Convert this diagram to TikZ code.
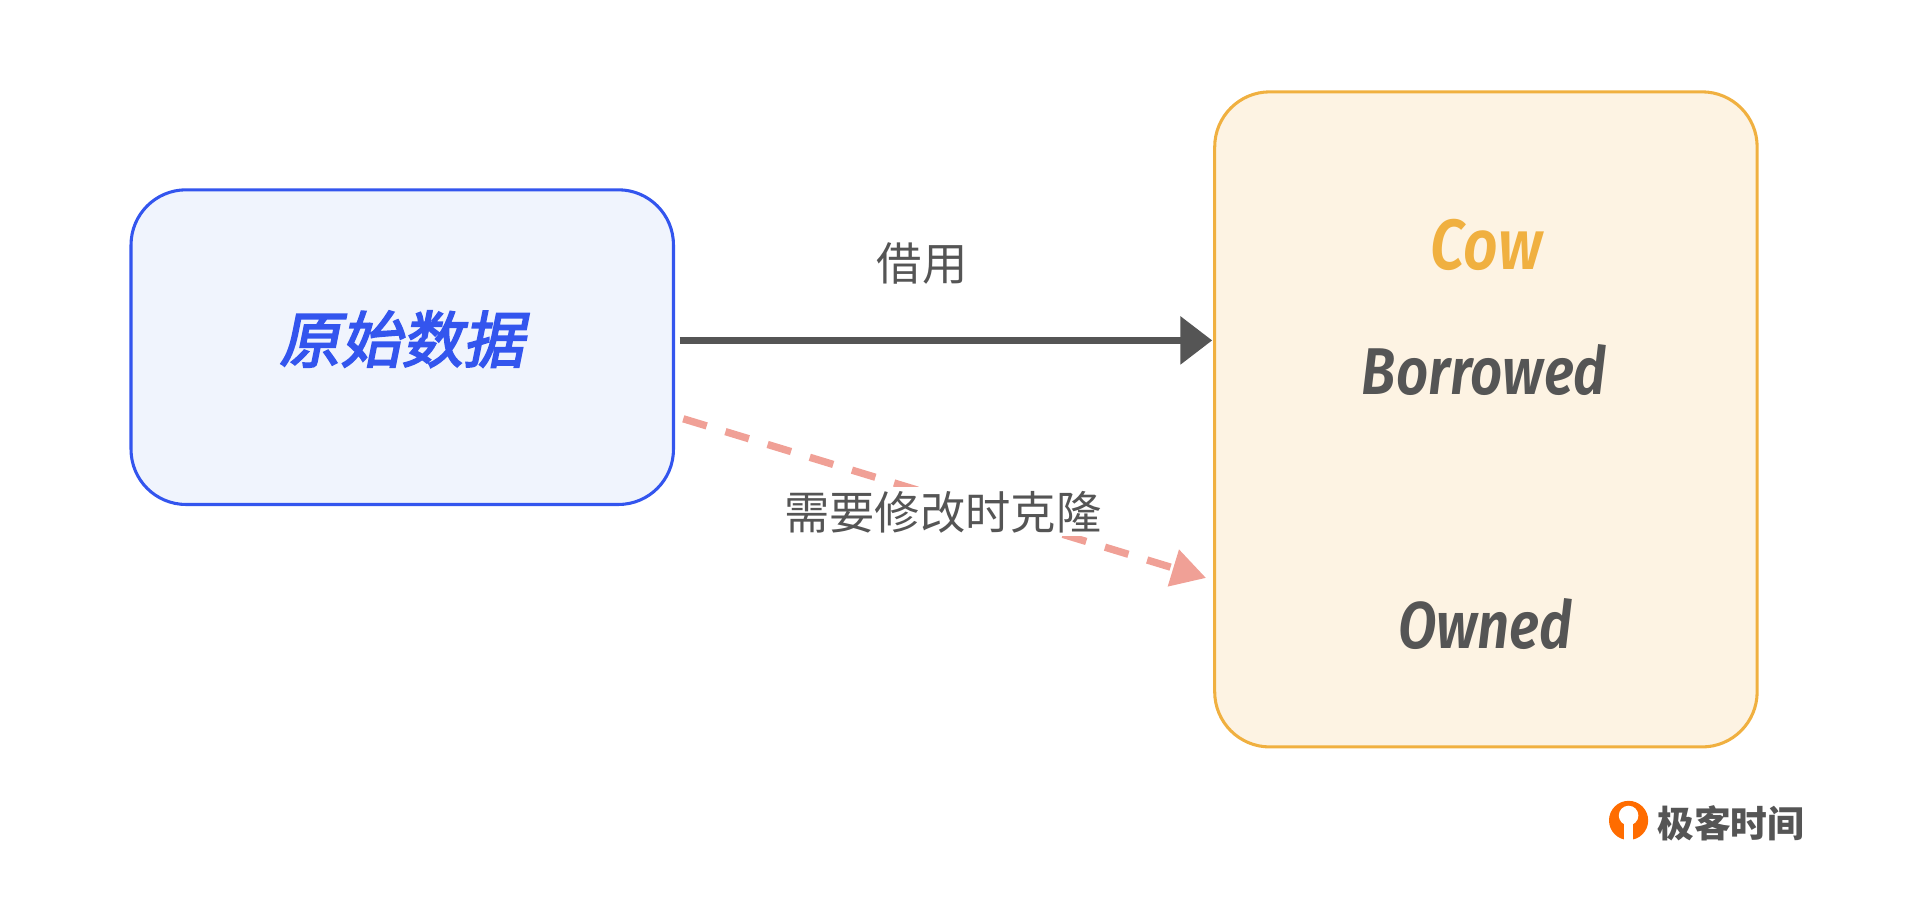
\documentclass[tikz,border=0pt]{standalone}
\usepackage{fontspec}
\setmainfont{Fira Sans}
\newfontfamily\cjk{Noto Sans CJK SC}
\newfontfamily\cjkit[FakeSlant=0.2,FakeBold=3]{Noto Sans CJK SC}
\newfontfamily\latit{Fira Sans SemiBold Italic}
\usetikzlibrary{arrows.meta}
\definecolor{bblue}{HTML}{3355EE}
\definecolor{bfill}{HTML}{F0F4FD}
\definecolor{oline}{HTML}{F0B040}
\definecolor{ofill}{HTML}{FDF3E3}
\definecolor{dgray}{HTML}{555555}
\definecolor{salmon}{HTML}{F0A096}
\begin{document}
\begin{tikzpicture}[x=1pt,y=-1pt,
  box/.style={rounded corners=45pt,line width=2.5pt},
  lbl/.style={font=\cjk\fontsize{37}{44}\selectfont,text=dgray}]
\useasboundingbox (0,0) rectangle (1568,736.6);
\draw[box,draw=bblue,fill=bfill] (107,155) rectangle (550,412);
\node (src) at (328.5,283.5) [minimum width=443pt,minimum height=257pt] {};
\node at (328,277) {\cjkit\fontsize{50}{58}\selectfont\color{bblue}原始数据};
\draw[box,draw=oline,fill=ofill] (992,75) rectangle (1435,610);
\node (cow) at (1214,200) {\latit\fontsize{58}{66}\selectfont\color{oline}\scalebox{0.85}[1]{Cow}};
\node (bor) at (1212,302) {\latit\fontsize{54}{60}\selectfont\color{dgray}\scalebox{0.85}[1]{Borrowed}};
\node (own) at (1213,510) {\latit\fontsize{54}{60}\selectfont\color{dgray}\scalebox{0.85}[1]{Owned}};
\coordinate (a1) at (555,278);
\coordinate (a2) at (990,278);
\draw[dgray,line width=6pt,-{Triangle[length=26pt,width=38pt]}] (a1) -- (a2);
\node[lbl] at (753,215) {借用};
\coordinate (d1) at (558,342);
\coordinate (d2) at (985,472);
\draw[salmon,line width=6pt,dash pattern=on 20pt off 16pt,-{Triangle[length=28pt,width=30pt]}] (d1) -- (d2);
\node[lbl,fill=white,inner sep=3pt] at (770,418) {需要修改时克隆};
% logo
\fill[orange!85!red] (1330,670) circle (16pt);
\fill[white] (1330,666) circle (8pt);
\fill[white] (1326,672) rectangle (1334,690);
\node[font=\cjk\bfseries\fontsize{30}{36}\selectfont,text=dgray,anchor=west] at (1350,672) {极客时间};
\end{tikzpicture}
\end{document}
